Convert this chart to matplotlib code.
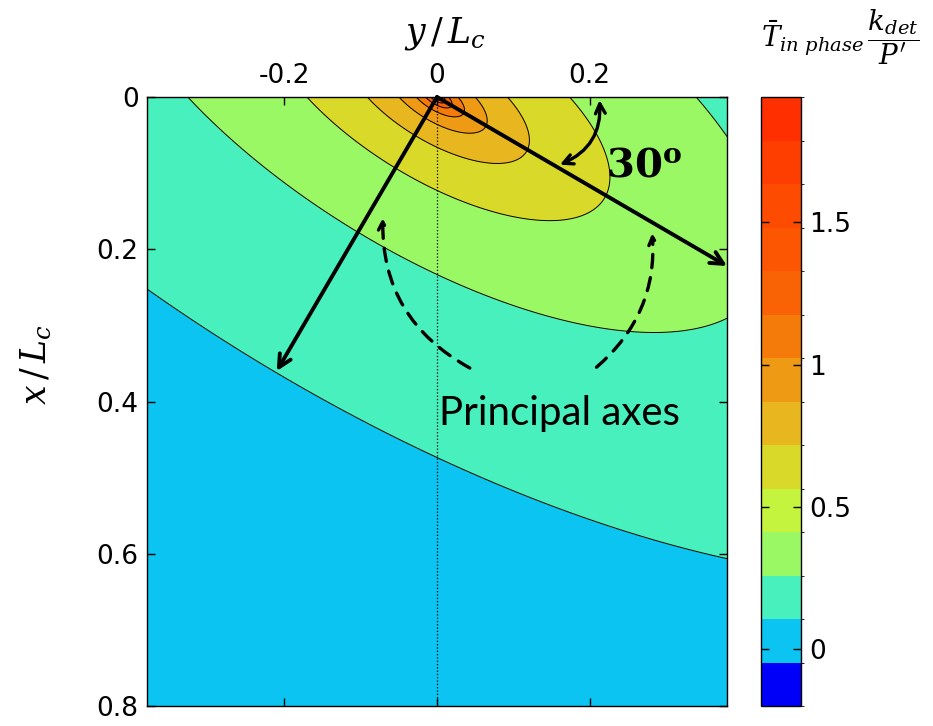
import numpy as np
import matplotlib.pyplot as plt
from matplotlib.colors import ListedColormap, BoundaryNorm
from matplotlib.cm import ScalarMappable

plt.rcParams['axes.unicode_minus'] = False
plt.rcParams['mathtext.fontset'] = 'dejavuserif'

# colour scale: band edges and colorbar band colours (bottom to top)
levels = [-0.2, -0.047, 0.106, 0.259, 0.411, 0.564, 0.717, 0.870,
          1.023, 1.176, 1.329, 1.481, 1.634, 1.787, 1.94]
band_colors = ['#0000FA', '#0CC4F2', '#48F0BE', '#99F863', '#C4F43E',
               '#D9D92A', '#E8B71F', '#EF9A14', '#F47A0A', '#FA6305',
               '#FC5603', '#FD4C01', '#FE3E00', '#FF2F00']
# colours actually seen between the contour lines of the map
fill_colors = ['#0000FA', '#0CC4F2', '#48F0BE', '#99F863', '#D9D92A',
               '#E8B71F', '#EF9A14', '#F47A0A', '#FA6305', '#FC5603',
               '#FD4C01', '#FE3E00', '#FF2F00', '#FF2F00']

# contour crossings, as (y/Lc, x/Lc)
c0106 = [(-0.38, 0.26), (-0.286, 0.319), (-0.209, 0.359), (-0.133, 0.407),
         (0.005, 0.481), (0.122, 0.526), (0.25, 0.569), (0.38, 0.602)]
c0259 = [(-0.329, 0.001), (-0.26, 0.043), (-0.174, 0.109), (-0.105, 0.188),
         (0.001, 0.243), (0.117, 0.28), (0.243, 0.305), (0.32, 0.305),
         (0.38, 0.31), (0.34, 0.001), (0.368, 0.03), (0.38, 0.08)]
c0411 = [(-0.166, 0.001), (-0.103, 0.053), (-0.057, 0.092), (0.005, 0.126),
         (0.072, 0.151), (0.122, 0.160), (0.174, 0.151), (0.215, 0.126),
         (0.225, 0.100), (0.220, 0.066), (0.204, 0.021), (0.189, 0.001)]
c0564 = [(-0.084, 0.001), (-0.036, 0.057), (0.005, 0.076), (0.046, 0.083),
         (0.097, 0.076), (0.122, 0.057), (0.117, 0.021), (0.103, 0.001)]
c0717 = [(-0.02, 0.001), (0.0, 0.034), (0.046, 0.046), (0.067, 0.030),
         (0.057, 0.001)]

# fit a smooth field to those crossings:
# f = c - k/2 ln(y^2 + b y x + g x^2) + m y + n x + s sqrt(q)
pts = []
for lev, arr in [(0.106, c0106), (0.259, c0259), (0.411, c0411),
                 (0.564, c0564), (0.717, c0717)]:
    for y, x in arr:
        pts.append((y, x, lev))
pts = np.array(pts)
py, px, pf = pts[:, 0], pts[:, 1], pts[:, 2]
w = np.sqrt(py**2 + px**2)


def design(y, x, q):
    return np.column_stack([np.ones_like(y), -0.5 * np.log(q), y, x, np.sqrt(q)])


best = None
for b in np.linspace(-3, 1, 81):
    for g in np.linspace(0.3, 6, 115):
        if b * b >= 4 * g:
            continue
        q = py**2 + b * py * px + g * px**2
        A = design(py, px, q)
        coef = np.linalg.lstsq(A * w[:, None], pf * w, rcond=None)[0]
        err = np.sum(((A @ coef - pf) * w)**2)
        if best is None or err < best[0]:
            best = (err, b, g, coef)
_, b, g, coef = best

yy = np.linspace(-0.38, 0.38, 500)
xx = np.linspace(0, 0.8, 500)
Y, X = np.meshgrid(yy, xx)
Q = Y**2 + b * Y * X + g * X**2 + 1e-9
F = (design(Y.ravel(), X.ravel(), Q.ravel()) @ coef).reshape(Y.shape)
F = np.clip(F, levels[1] + 0.005, levels[-1] - 0.01)

fig = plt.figure(figsize=(9.33, 7.26), dpi=100)
ax = fig.add_axes([147 / 933, 1 - 706 / 726, 580 / 933, 609 / 726])
cax = fig.add_axes([761 / 933, 1 - 706 / 726, 40 / 933, 609 / 726])

norm = BoundaryNorm(levels, len(band_colors))
ax.contourf(Y, X, F, levels=levels, cmap=ListedColormap(fill_colors), norm=norm)
ax.contour(Y, X, F, levels=levels[1:-1], colors='k', linewidths=0.7)
ax.plot([0, 0], [0, 0.8], color='k', ls=':', lw=0.9)

ax.set_xlim(-0.38, 0.38)
ax.set_ylim(0.8, 0)
ax.set_xticks([-0.2, 0, 0.2])
ax.set_xticklabels(['-0.2', '0', '0.2'])
ax.set_yticks([0, 0.2, 0.4, 0.6, 0.8])
ax.set_yticklabels(['0', '0.2', '0.4', '0.6', '0.8'])
ax.xaxis.tick_top()
ax.tick_params(direction='in', length=6, width=1, top=True, bottom=True,
               left=True, right=True, labelsize=19, pad=6)
for s in ax.spines.values():
    s.set_linewidth(1.0)

# principal axes
ax.annotate('', xy=(0.38, 0.222), xytext=(0, 0), annotation_clip=False,
            arrowprops=dict(arrowstyle='->,head_length=0.9,head_width=0.45',
                            lw=2.8, color='k', shrinkA=0, shrinkB=0))
ax.annotate('', xy=(-0.21, 0.36), xytext=(0, 0),
            arrowprops=dict(arrowstyle='->,head_length=0.9,head_width=0.45',
                            lw=2.8, color='k', shrinkA=0, shrinkB=0))
# angle marker
ax.annotate('', xy=(0.161, 0.089), xytext=(0.213, 0.004),
            arrowprops=dict(arrowstyle='<->,head_length=0.7,head_width=0.35',
                            lw=2.4, color='k', shrinkA=0, shrinkB=0,
                            connectionstyle='arc3,rad=-0.35'))
# dashed pointers
ax.annotate('', xy=(-0.071, 0.159), xytext=(0.043, 0.356),
            arrowprops=dict(arrowstyle='->,head_length=0.6,head_width=0.3',
                            lw=2.4, color='k', ls=(0, (4, 3)), shrinkA=0, shrinkB=0,
                            connectionstyle='arc3,rad=-0.3'))
ax.annotate('', xy=(0.282, 0.179), xytext=(0.209, 0.355),
            arrowprops=dict(arrowstyle='->,head_length=0.6,head_width=0.3',
                            lw=2.4, color='k', ls=(0, (4, 3)), shrinkA=0, shrinkB=0,
                            connectionstyle='arc3,rad=0.25'))

ax.text(0.222, 0.105, r'$\mathbf{30^o}$', fontsize=29, ha='left', va='baseline')
ax.text(0.003, 0.431, 'Principal axes', fontsize=29, family='Lato',
        ha='left', va='baseline')

fig.text(445 / 933, 1 - 33 / 726, r'$y\,/\,L_c$', fontsize=25, ha='center', va='center')
fig.text(37 / 933, 1 - 365 / 726, r'$x\,/\,L_c$', fontsize=25, ha='center', va='center',
         rotation=90)
fig.text(840 / 933, 1 - 37 / 726, r'$\bar{T}_{in\ phase}\,\dfrac{k_{det}}{P^{\prime}}$',
         fontsize=20, ha='center', va='center')

sm = ScalarMappable(norm=norm, cmap=ListedColormap(band_colors))
cb = fig.colorbar(sm, cax=cax, ticks=[0, 0.5, 1, 1.5])
cb.ax.set_yticklabels(['0', '0.5', '1', '1.5'])
cb.ax.tick_params(direction='in', length=6, width=1, left=True, right=True,
                  labelsize=19, pad=6)
cb.outline.set_linewidth(1.0)

fig.savefig('out.png', dpi=100)
